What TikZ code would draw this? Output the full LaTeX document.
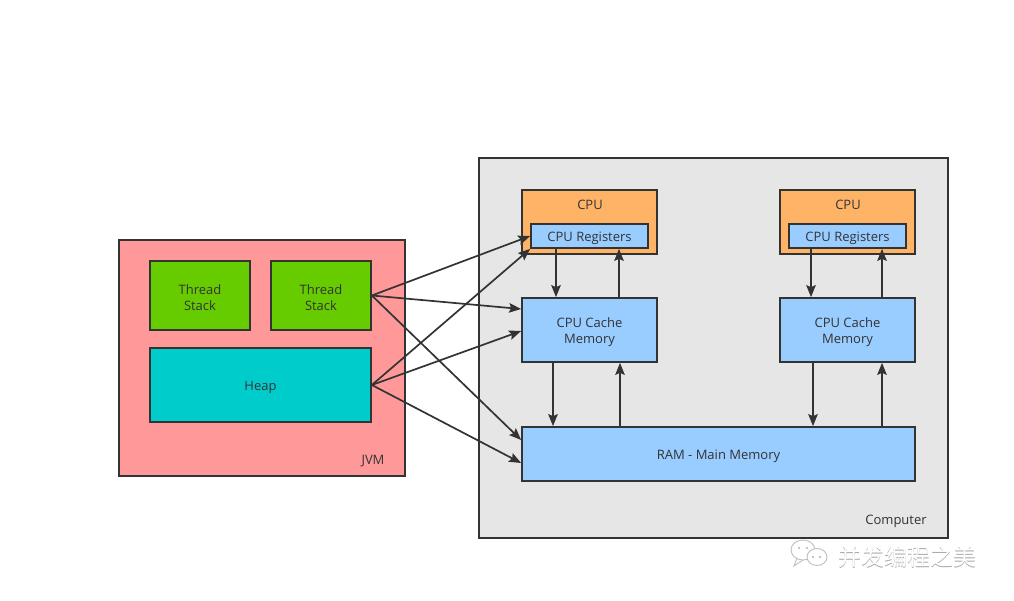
\documentclass[tikz,border=0pt]{standalone}
\usepackage{fontspec}
\setmainfont{Open Sans}
\newfontfamily\cjk{Noto Sans CJK SC}
\usetikzlibrary{arrows.meta}
\definecolor{edge}{HTML}{333333}
\definecolor{jvmc}{HTML}{FF9999}
\definecolor{stackc}{HTML}{66CC00}
\definecolor{heapc}{HTML}{00CCCC}
\definecolor{compc}{HTML}{E6E6E6}
\definecolor{cpuc}{HTML}{FFB366}
\definecolor{bluec}{HTML}{99CCFF}
\definecolor{txt}{HTML}{333333}
\tikzset{
  box/.style={draw=edge, line width=1.7pt, inner sep=0pt},
  lbl/.style={text=txt, inner sep=0pt, align=center, font=\fontsize{13}{16}\selectfont},
  in/.style={label={[lbl, yshift=-2.5pt]center:#1}},
  conn/.style={draw=edge, line width=1.7pt, -{Stealth[length=12pt,width=9.5pt,inset=2pt]}},
}
\begin{document}
\begin{tikzpicture}[x=1pt,y=-1pt]
\useasboundingbox (0,0) rectangle (1014,601);
\fill[white] (0,0) rectangle (1014,601);
% JVM
\node[box, fill=jvmc, minimum width=286pt, minimum height=236pt] (jvm) at (262,358) {};
\node[lbl] (jvml) at (373,461) {JVM};
\node[box, fill=stackc, minimum width=100pt, minimum height=69pt, in={Thread\\Stack}] (ts1) at (200,295.5) {};
\node[box, fill=stackc, minimum width=100pt, minimum height=69pt, in={Thread\\Stack}] (ts2) at (321,295.5) {};
\node[box, fill=heapc, minimum width=221pt, minimum height=74pt, in=Heap] (heap) at (260.5,385) {};
% Computer
\node[box, fill=compc, minimum width=469pt, minimum height=380pt] (comp) at (713.5,348) {};
\node[lbl] (compl) at (896,521) {Computer};
\node[box, fill=cpuc, minimum width=135pt, minimum height=64pt] (cpu1) at (589.5,222) {};
\node[lbl] (cpu1l) at (590,205) {CPU};
\node[box, fill=bluec, minimum width=117pt, minimum height=24pt, in={CPU Registers}] (reg1) at (589.5,236) {};
\node[box, fill=cpuc, minimum width=135pt, minimum height=64pt] (cpu2) at (847.5,222) {};
\node[lbl] (cpu2l) at (848,205) {CPU};
\node[box, fill=bluec, minimum width=117pt, minimum height=24pt, in={CPU Registers}] (reg2) at (847.5,236) {};
\node[box, fill=bluec, minimum width=135pt, minimum height=64pt, in={CPU Cache\\Memory}] (cache1) at (589.5,330) {};
\node[box, fill=bluec, minimum width=135pt, minimum height=64pt, in={CPU Cache\\Memory}] (cache2) at (847.5,330) {};
\node[box, fill=bluec, minimum width=393pt, minimum height=54pt, in={RAM - Main Memory}] (ram) at (718.5,454) {};
% vertical arrows
\draw[conn] (reg1.south -| 556,0) -- (cache1.north -| 556,0);
\draw[conn] (cache1.north -| 619,0) -- (reg1.south -| 619,0);
\draw[conn] (reg2.south -| 811,0) -- (cache2.north -| 811,0);
\draw[conn] (cache2.north -| 882,0) -- (reg2.south -| 882,0);
\draw[conn] (cache1.south -| 553,0) -- (ram.north -| 553,0);
\draw[conn] (ram.north -| 620,0) -- (cache1.south -| 620,0);
\draw[conn] (cache2.south -| 813,0) -- (ram.north -| 813,0);
\draw[conn] (ram.north -| 882,0) -- (cache2.south -| 882,0);
% diagonal arrows
\draw[conn] (ts2.east) -- (reg1.west |- 0,236);
\draw[conn] (ts2.east) -- (cache1.west |- 0,309);
\draw[conn] (ts2.east) -- (ram.west |- 0,440);
\draw[conn] (heap.east) -- (reg1.south west);
\draw[conn] (heap.east) -- (cache1.west |- 0,331);
\draw[conn] (heap.east) -- (ram.west |- 0,463);
% watermark
\begin{scope}[draw=black!25, line width=0.9pt, fill=white]
\draw[fill=white] (803,550) ellipse (12pt and 10pt);
\draw (797,558) -- (794,566) -- (803,560);
\draw[fill=white] (817,557) ellipse (10pt and 8.5pt);
\fill[black!30] (799,548) circle (1.2pt) (807,548) circle (1.2pt) (813,557) circle (1.1pt) (820,557) circle (1.1pt);
\end{scope}
\node[text=black!35, inner sep=0pt, font=\cjk\fontsize{23}{26}\selectfont] (wmshadow) at (907.8,557.8) {并发编程之美};
\node[text=white, inner sep=0pt, font=\cjk\fontsize{23}{26}\selectfont] (wm) at (907,557) {并发编程之美};
\end{tikzpicture}
\end{document}
